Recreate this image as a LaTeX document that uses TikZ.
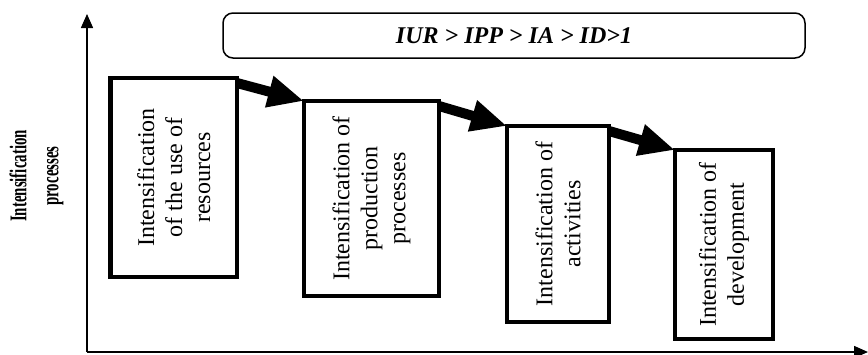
\documentclass[tikz,border=0pt]{standalone}
\usepackage{fontspec}
\setmainfont{Liberation Serif}
\usetikzlibrary{arrows.meta,calc}
\begin{document}
\begin{tikzpicture}[x=1pt,y=-1pt,
  stagebox/.style={draw,line width=4.5pt,outer sep=0pt,inner sep=0pt},
  stagetext/.style={rotate=90,align=center,font=\fontsize{24}{28}\selectfont,inner sep=0pt},
  bigarrow/.style={line width=10pt,-{Triangle[length=36pt,width=30pt]}},
  axisline/.style={line width=1.5pt,-{Triangle[length=14pt,width=12pt]}}]
\useasboundingbox (0,0) rectangle (868,354);
% axes
\coordinate (o) at (87,352);
\coordinate (ytop) at (87,14);
\coordinate (xend) at (868,352);
\draw[axisline] (o) -- (ytop);
\draw[axisline] (o) -- (xend);
% axis label
\node[rotate=90,inner sep=0pt,font=\fontsize{24}{32}\selectfont\bfseries] (yl) at (36,176)
  {\scalebox{0.62}[1]{\begin{tabular}{@{}c@{}}Intensification\\processes\end{tabular}}};
% formula box
\node[draw,rounded corners=10pt,line width=1.5pt,minimum width=582pt,minimum height=45pt,
  inner sep=0pt,font=\fontsize{24}{28}\selectfont\bfseries\itshape] (f) at (514,35.5)
  {IUR > IPP > IA > ID>1};
% stage boxes
\node[stagebox,minimum width=126.5pt,minimum height=199pt] (b1) at (173.75,177.5) {};
\node[stagebox,minimum width=135pt,minimum height=195pt] (b2) at (371.5,198.5) {};
\node[stagebox,minimum width=102pt,minimum height=196pt] (b3) at (558,224) {};
\node[stagebox,minimum width=98pt,minimum height=189pt] (b4) at (724,244.5) {};
\node[stagetext] (t1) at (b1) {Intensification\\of the use of\\resources};
\node[stagetext] (t2) at (b2) {Intensification of\\production\\processes};
\node[stagetext] (t3) at (b3) {Intensification of\\activities};
\node[stagetext] (t4) at (b4) {Intensification of\\development};
% arrows
\draw[bigarrow] ($(b1.north east)+(0,5)$) -- (b2.north west);
\draw[bigarrow] ($(b2.north east)+(0,5)$) -- (b3.north west);
\draw[bigarrow] ($(b3.north east)+(0,5)$) -- (b4.north west);
\end{tikzpicture}
\end{document}
